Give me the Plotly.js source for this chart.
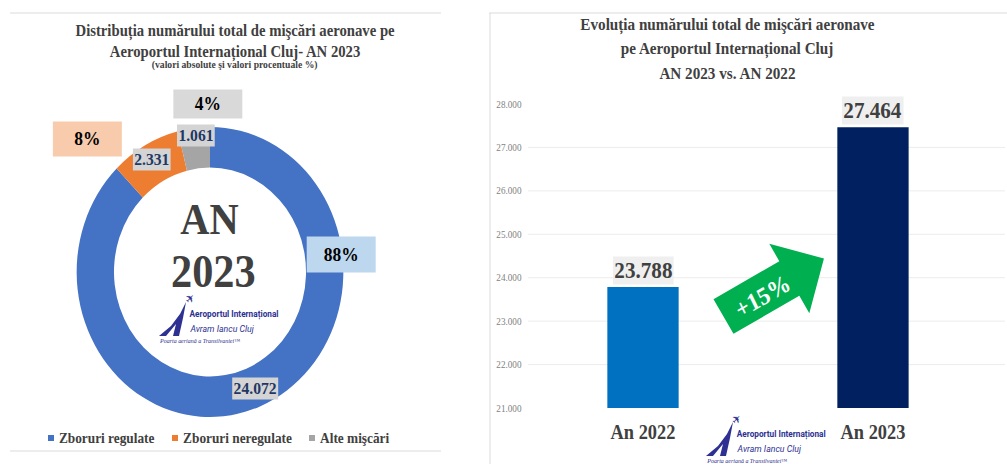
<!DOCTYPE html>
<html><head><meta charset="utf-8">
<script src="https://cdn.plot.ly/plotly-3.0.1.min.js"></script>
<style>
html,body{margin:0;padding:0;overflow:hidden;background:#fff}
#chart{width:1095px;height:464px;transform:scaleX(0.91963);transform-origin:0 0}
</style>
</head><body><div id="chart"></div>
<script>
// ---- data ----
const pieLabels = ['Zboruri regulate', 'Zboruri neregulate', 'Alte mişcări'];
const pieValues = [24072, 2331, 1061];
const pieColors = ['#4472C4', '#ED7D31', '#A5A5A5'];
const pctBoxColors = ['#BDD7EE', '#F8CBAD', '#D9D9D9'];
const barCategories = ['An 2022', 'An 2023'];
const barValues = [23788, 27464];
const barColors = ['#0070C0', '#002060'];
const yTickVals = [21000, 22000, 23000, 24000, 25000, 26000, 27000, 28000];
const growthLabel = '+15%';

// ---- helpers ----
const W = 1007, H = 464, WPRE = 1095;
const X = px => px / W;
const Y = py => 1 - py / H;
const fmt = v => String(v).replace(/\B(?=(\d{3})+(?!\d))/g, '.');
const SERIF = 'Liberation Serif, Times New Roman, serif';
const DARK = '#404040';
const NAVY = '#2E3192';

const total = pieValues.reduce((a, b) => a + b, 0);

const annotations = [];
const shapes = [];

function ann(o) { annotations.push(Object.assign({xref: 'paper', yref: 'paper', showarrow: false, xanchor: 'center', yanchor: 'middle'}, o)); }
function pathFrom(pts) {
  return 'M' + pts.map(p => X(p[0]).toFixed(5) + ',' + Y(p[1]).toFixed(5)).join(' L') + ' Z';
}

// ---- Left panel: titles ----
ann({x: X(235), y: Y(42), text: 'Distribuția numărului total de mişcări aeronave pe<br>Aeroportul Internațional Cluj- AN 2023',
     font: {family: SERIF, size: 16, color: DARK, weight: 'bold'}});
ann({x: X(235), y: Y(65), text: '(valori absolute şi valori procentuale %)',
     font: {family: SERIF, size: 10.5, color: DARK, weight: 'bold'}});

// centre text
ann({x: X(210), y: Y(219), text: 'AN', font: {family: SERIF, size: 44, color: DARK, weight: 'bold'}});
ann({x: X(213), y: Y(271), text: '2023', font: {family: SERIF, size: 46, color: DARK, weight: 'bold'}});

// value labels on ring (positions of labels)
const valLabelPos = [[255, 388], [152, 159], [196, 135]];
pieValues.forEach((v, i) => {
  ann({x: X(valLabelPos[i][0]), y: Y(valLabelPos[i][1]), text: fmt(v),
       font: {family: SERIF, size: 17, color: '#1F3864', weight: 'bold'},
       bgcolor: '#D4D4D4', borderpad: 1});
});
// percentage boxes
const pctPos = [[341, 254], [87, 139], [208, 104]];
const pctBoxH = [35, 34, 28];
pieValues.forEach((v, i) => {
  ann({x: X(pctPos[i][0]), y: Y(pctPos[i][1]), text: Math.round(v / total * 100) + '%',
       font: {family: SERIF, size: 19, color: '#000', weight: 'bold'},
       bgcolor: pctBoxColors[i], width: 74, height: pctBoxH[i], borderpad: 0});
});

// legend
const legPos = [48, 172, 309];
pieLabels.forEach((lab, i) => {
  shapes.push({type: 'rect', xref: 'paper', yref: 'paper', x0: X(legPos[i]), x1: X(legPos[i] + 6),
               y0: Y(441), y1: Y(435), fillcolor: pieColors[i], line: {width: 0}});
  ann({x: X(legPos[i] + 9), y: Y(438), text: lab, xanchor: 'left',
       font: {family: SERIF, size: 14.5, color: DARK, weight: 'bold'}});
});

// ---- Right panel: title ----
['Evoluția numărului total de mişcări aeronave', 'pe Aeroportul Internațional Cluj', 'AN 2023 vs. AN 2022'].forEach((t, i) => {
  ann({x: X(727), y: Y(25 + 24 * i), text: t, font: {family: SERIF, size: 16.5, color: DARK, weight: 'bold'}});
});

// bar data labels
barValues.forEach((v, i) => {
  annotations.push({xref: 'x', yref: 'y', x: barCategories[i], y: v, text: fmt(v), showarrow: false,
    xanchor: 'center', yanchor: 'bottom', yshift: 2, bgcolor: '#EFEFEF', borderpad: 1,
    font: {family: SERIF, size: 23, color: DARK, weight: 'bold'}});
});

// growth arrow
(function () {
  const C = [723.5, 316.5], u = [0.866, -0.5], n = [0.5, 0.866];
  const local = [[0, -20], [76, -20], [76, -40], [116, 0], [76, 40], [76, 20], [0, 20]];
  const pts = local.map(([s, t]) => [C[0] + s * u[0] + t * n[0], C[1] + s * u[1] + t * n[1]]);
  shapes.push({type: 'path', xref: 'paper', yref: 'paper', path: pathFrom(pts), fillcolor: '#00B050', line: {width: 0}});
  ann({x: X(762), y: Y(296), text: growthLabel, textangle: -28,
       font: {family: SERIF, size: 25, color: '#FFFFFF', weight: 'bold'}});
})();

// logos
function logo(tx, ty) {
  shapes.push({type: 'path', xref: 'paper', yref: 'paper',
    path: pathFrom([[tx - 29, ty + 22], [tx - 17, ty + 12], [tx - 8, ty], [tx - 2, ty - 12], [tx - 5, ty + 4], [tx - 9, ty + 22], [tx - 15, ty + 22], [tx - 12, ty + 10], [tx - 22, ty + 22]]),
    fillcolor: NAVY, line: {width: 0}});
  ann({x: X(tx + 2), y: Y(ty - 15), text: '✈', textangle: -45, font: {family: 'DejaVu Sans', size: 12, color: NAVY}});
  ann({x: X(tx), y: Y(ty), text: 'Aeroportul Internațional', xanchor: 'left',
       font: {family: 'Roboto, sans-serif', size: 9, color: NAVY, weight: 'bold'}});
  ann({x: X(tx), y: Y(ty + 14), text: '<i>Avram Iancu Cluj</i>', xanchor: 'left',
       font: {family: 'Roboto, sans-serif', size: 9.5, color: NAVY}});
  ann({x: X(tx - 31), y: Y(ty + 26), text: '<i>Poarta aeriană a Transilvaniei™</i>', xanchor: 'left',
       font: {family: SERIF, size: 6.5, color: NAVY}});
}
logo(188, 314);
logo(735, 434);

// panel borders
const bc = '#D9D9D9';
[[10, 13, 441, 13], [10, 451, 441, 451], [489, 13, 1007, 13], [490, 13, 490, 464]].forEach(l => {
  shapes.push({type: 'line', xref: 'paper', yref: 'paper', x0: X(l[0]), y0: Y(l[1]), x1: X(l[2]), y1: Y(l[3]),
               line: {color: bc, width: 1}});
});

// ---- traces ----
const R = 145, CX = 210, CY = 272;
const pie = {
  type: 'pie', labels: pieLabels, values: pieValues, sort: false, direction: 'clockwise', rotation: 0,
  hole: 0.72, textinfo: 'none', hoverinfo: 'none', showlegend: false,
  marker: {colors: pieColors, line: {width: 0}},
  domain: {x: [X(CX) - R / WPRE, X(CX) + R / WPRE], y: [Y(CY + R), Y(CY - R)]}
};
const bar = {
  type: 'bar', x: barCategories, y: barValues, marker: {color: barColors}, width: 0.31,
  hoverinfo: 'none', showlegend: false, xaxis: 'x', yaxis: 'y'
};

const layout = {
  width: WPRE, height: H, margin: {l: 0, r: 0, t: 0, b: 0},
  paper_bgcolor: '#FFFFFF', plot_bgcolor: 'rgba(0,0,0,0)', showlegend: false,
  separators: ',.',
  xaxis: {domain: [X(528), X(1005)], range: [-0.5, 1.574], showgrid: false, zeroline: false, showline: false,
          ticks: '', tickfont: {family: SERIF, size: 20, color: DARK, weight: 'bold'}, ticklabelstandoff: 10,
          fixedrange: true},
  yaxis: {domain: [Y(408), Y(104)], range: [21000, 28000], tickvals: yTickVals, tickformat: ',d',
          showgrid: true, gridcolor: '#EBEBEB', gridwidth: 1, zeroline: false, showline: false, ticks: '',
          tickfont: {family: SERIF, size: 10, color: '#7F7F7F'}, ticklabelstandoff: 6, fixedrange: true},
  annotations: annotations,
  shapes: shapes
};

Plotly.newPlot('chart', [pie, bar], layout, {displayModeBar: false, staticPlot: true});
</script>
</body></html>
